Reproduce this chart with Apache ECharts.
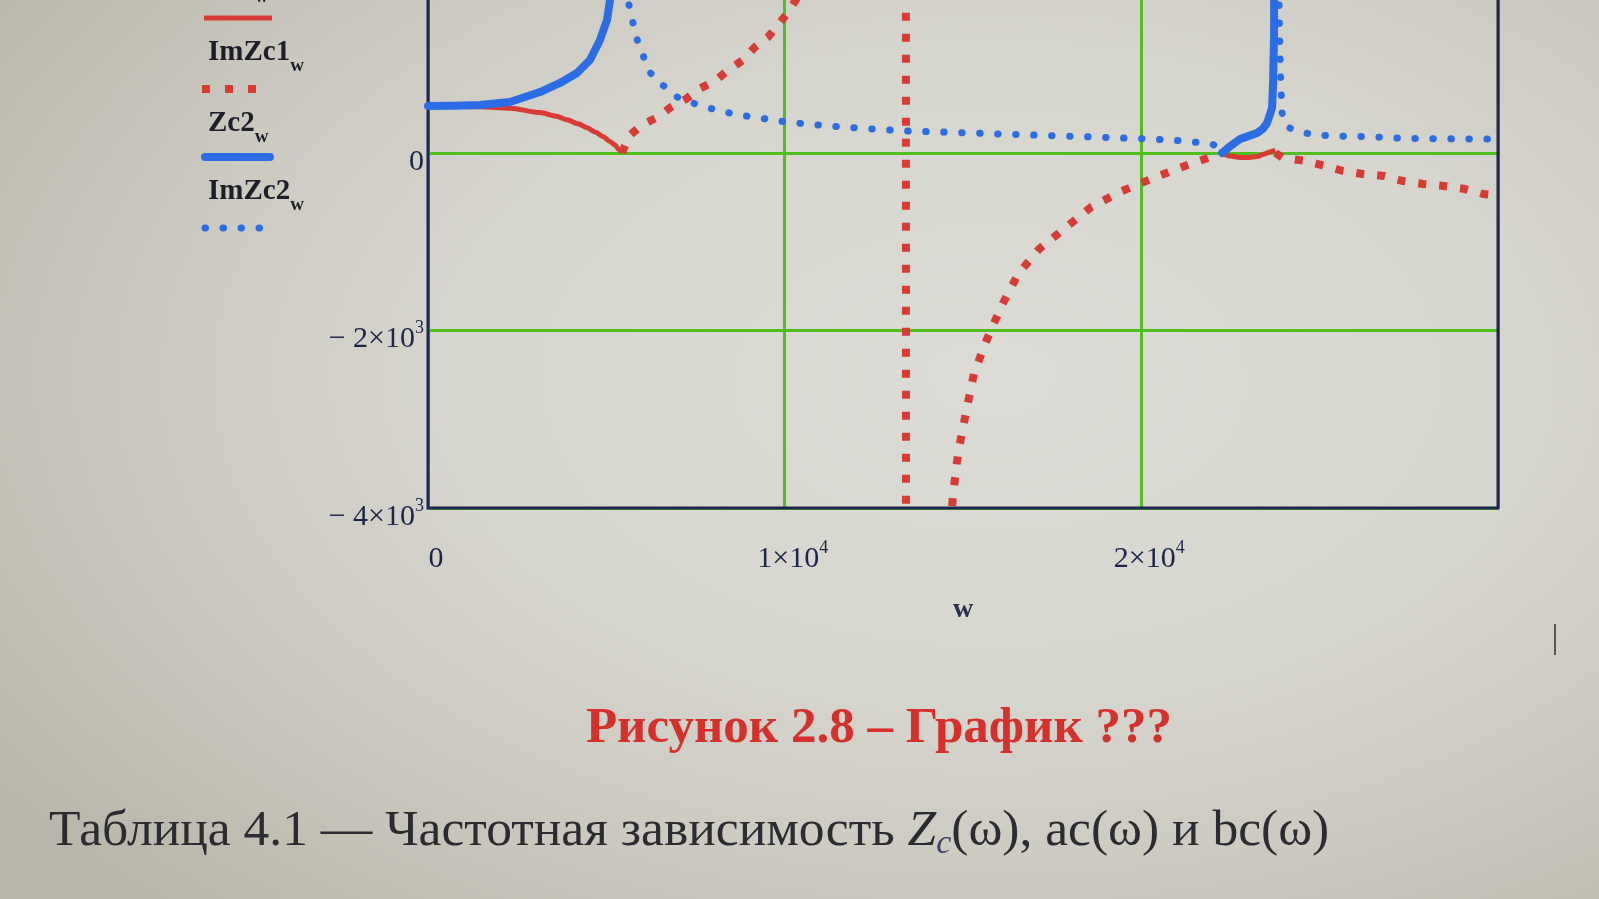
<!DOCTYPE html>
<html>
<head>
<meta charset="utf-8">
<script src="https://cdn.jsdelivr.net/npm/echarts@6/dist/echarts.min.js"></script>
<style>
html,body{margin:0;padding:0;width:1599px;height:899px;overflow:hidden;position:relative;
background:radial-gradient(ellipse 75% 80% at 62% 42%, #dcdbd5 0%, #d6d5ce 45%, #c9c7bd 75%, #b9b7ab 100%);}
#c{position:absolute;left:0;top:-202px;width:1599px;height:1101px;}
</style>
</head>
<body>
<div id="c"></div>
<script>
// ---- data (w, value) ----
const zc1 = [[0,530],[700,530],[1458,520],[2299,505],[3140,455],[3600,415],[3897,375],[4200,330],[4458,285],[4700,235],[4907,185],[5100,130],[5243,90],[5350,40],[5440,0],
  [5441,'-'],
  [22264,0],[22500,-35],[22769,-50],[23000,-50],[23246,-40],[23450,-10],[23666,20],[23760,30]];
const imZc1 = [[5440,0],[5636,192],[6000,316],[6449,406],[6814,518],[7234,609],[7599,721],[8047,811],[8384,924],[8833,1048],[9169,1195],[9534,1307],[9842,1454],[10122,1600],[10500,1850],[11000,2300],[11500,2900],[12000,3700],[12500,5000],[13000,8000],[13390,40000],
  [13410,-40000],[13800,-12000],[14200,-7000],[14500,-5000],[14721,-3843],[14861,-3381],[15086,-2919],[15310,-2479],[15674,-2096],[16095,-1713],[16544,-1364],[17132,-1082],[17861,-845],[18591,-609],[19460,-428],[20413,-270],[21366,-124],[21871,-56],[22264,0],
  [22265,'-'],
  [23760,0],[23974,-56],[24619,-90],[25152,-147],[25657,-203],[26217,-237],[26806,-259],[27339,-316],[27900,-349],[28489,-372],[29077,-406],[29582,-462],[30000,-480]];
const zc2 = [[0,530],[700,532],[1458,540],[2299,575],[3140,687],[3701,789],[4178,901],[4542,1048],[4823,1273],[5019,1499],[5103,1724],[5250,2600],[5380,6000],[5440,40000],
  [5441,'-'],
  [22264,0],[22500,80],[22769,158],[23000,190],[23246,225],[23400,270],[23526,338],[23620,450],[23666,518],[23694,789],[23722,1352],[23740,40000]];
const imZc2 = [[5440,40000],[5608,1713],[5720,1533],[5790,1364],[5916,1217],[6057,1071],[6197,924],[6421,811],[6730,721],[6982,631],[7346,575],[7739,518],[8160,480],[8524,445],[8945,415],[9365,390],[9842,360],[10767,320],[11721,290],[12674,265],[13599,245],[14553,235],[16000,215],[17500,195],[19039,175],[20105,160],[21058,140],[21700,115],[22011,95],[22200,55],[22264,0],
  [22265,'-'],
  [23740,40000],[23860,1700],[23900,900],[23946,451],[24086,293],[24451,237],[24900,203],[25320,192],[26358,185],[27311,165],[28320,160],[29330,158],[30000,158]];

const xTickValues = [0, 10000, 20000];
const xTickText = ['0', '1\u00d710', '2\u00d710'];
const xTickExp = ['', '4', '4'];
const yTickValues = [0, -2000, -4000];
const yTickText = ['0', '\u2212 2\u00d710', '\u2212 4\u00d710'];
const yTickExp = ['', '3', '3'];

const legendNames = ['Zc1', 'ImZc1', 'Zc2', 'ImZc2'];
const legendSub = 'w';
const axisName = 'w';
const captionText = 'Рисунок 2.8 – График ???';
const tablePre = 'Таблица 4.1 — Частотная зависимость ';
const tableZ = 'Z';
const tableSub = 'c';
const tablePost = '(ω), ac(ω) и bc(ω)';

const OFF = 202; // chart canvas starts 202px above the page
const RED = '#d83b36', BLUE = '#2c6de6', GREEN = '#4fbf1f', FRAME = '#1d2550', INK = '#1c2548';
const SERIF = '"Liberation Serif", "DejaVu Serif", serif';

function fmt(vals, txt, exp) {
  return function (v) {
    const i = vals.indexOf(v);
    if (i < 0) return '';
    return '{m|' + txt[i] + '}' + (exp[i] ? '{s|' + exp[i] + '}' : '');
  };
}
const tickRich = {
  m: {fontFamily: SERIF, fontSize: 30, color: INK, lineHeight: 40, verticalAlign: 'bottom'},
  s: {fontFamily: SERIF, fontSize: 18, color: INK, lineHeight: 40, verticalAlign: 'top', padding: [5, 0, 0, 0]}
};

const chart = echarts.init(document.getElementById('c'), null, {renderer: 'canvas'});

const legendY = [-12, 57, 128, 196];
const legendText = legendNames.map((n, i) => ({
  type: 'text', x: 208, y: legendY[i] + OFF, z: 100,
  style: {
    text: '{b|' + n + '}{w|' + legendSub + '}',
    verticalAlign: 'middle', align: 'left',
    rich: {
      b: {fontFamily: SERIF, fontWeight: 'bold', fontSize: 29, fill: '#1e1e28', lineHeight: 38, verticalAlign: 'top'},
      w: {fontFamily: SERIF, fontWeight: 'bold', fontSize: 19, fill: '#1e1e28', lineHeight: 38, verticalAlign: 'bottom'}
    }
  }
}));

chart.setOption({
  backgroundColor: 'transparent',
  animation: false,
  grid: {left: 428, right: 101, top: 0, bottom: 391, show: true, borderColor: FRAME, borderWidth: 3, backgroundColor: 'transparent', z: 3},
  xAxis: {
    type: 'value', min: 0, max: 30000, interval: 10000,
    name: axisName, nameLocation: 'middle', nameGap: 88,
    nameTextStyle: {fontFamily: SERIF, fontSize: 28, fontWeight: 'bold', color: '#2a2f4a'},
    axisLine: {show: false}, axisTick: {show: false},
    axisLabel: {margin: 26, formatter: fmt(xTickValues, xTickText, xTickExp), rich: tickRich, padding: [0, 0, 0, 16]},
    splitLine: {show: true, lineStyle: {color: GREEN, width: 3}}
  },
  yAxis: {
    type: 'value', min: -4000, max: 4000, interval: 2000,
    axisLine: {show: false}, axisTick: {show: false},
    axisLabel: {margin: 4, formatter: fmt(yTickValues, yTickText, yTickExp), rich: tickRich, padding: [8, 0, 0, 0]},
    splitLine: {show: true, lineStyle: {color: GREEN, width: 3}}
  },
  series: [
    {name: 'Zc1', type: 'line', data: zc1, showSymbol: false, connectNulls: false, clip: true, z: 4,
     smooth: 0.3, smoothMonotone: 'x',
     lineStyle: {color: RED, width: 5}},
    {name: 'ImZc1', type: 'line', data: imZc1, showSymbol: false, connectNulls: false, clip: true, z: 5,
     lineStyle: {color: RED, width: 8, type: [8, 13], cap: 'butt'}},
    {name: 'Zc2', type: 'line', data: zc2, showSymbol: false, connectNulls: false, clip: true, z: 6,
     lineStyle: {color: BLUE, width: 8, cap: 'round', join: 'round'}},
    {name: 'ImZc2', type: 'line', data: imZc2, showSymbol: false, connectNulls: false, clip: true, z: 7,
     lineStyle: {color: BLUE, width: 7, type: [0.5, 17.5], cap: 'round'}}
  ],
  graphic: legendText.concat([
    {type: 'line', z: 100, shape: {x1: 204, y1: 18 + OFF, x2: 272, y2: 18 + OFF}, style: {stroke: RED, lineWidth: 5}},
    {type: 'line', z: 100, shape: {x1: 202, y1: 89 + OFF, x2: 256, y2: 89 + OFF}, style: {stroke: RED, lineWidth: 8, lineDash: [8, 15]}},
    {type: 'line', z: 100, shape: {x1: 205, y1: 157 + OFF, x2: 270, y2: 157 + OFF}, style: {stroke: BLUE, lineWidth: 8, lineCap: 'round'}},
    {type: 'line', z: 100, shape: {x1: 205, y1: 228 + OFF, x2: 262, y2: 228 + OFF}, style: {stroke: BLUE, lineWidth: 7, lineCap: 'round', lineDash: [0.5, 17.5]}},
    {type: 'text', z: 100, x: 879, y: 729 + OFF, style: {
      text: captionText, align: 'center', verticalAlign: 'middle',
      font: 'bold 51px ' + SERIF, fill: '#d5302c'}},
    {type: 'text', z: 100, x: 49, y: 831 + OFF, style: {
      text: '{n|' + tablePre + '}{i|' + tableZ + '}{c|' + tableSub + '}{n|' + tablePost + '}',
      align: 'left', verticalAlign: 'middle',
      rich: {
        n: {fontFamily: SERIF, fontSize: 51.5, fill: '#2b2b30', lineHeight: 60, verticalAlign: 'middle'},
        i: {fontFamily: SERIF, fontSize: 51.5, fontStyle: 'italic', fill: '#2b2b30', lineHeight: 60, verticalAlign: 'middle'},
        c: {fontFamily: SERIF, fontSize: 34, fontStyle: 'italic', fill: '#3a3f66', lineHeight: 60, verticalAlign: 'bottom'}
      }}},
    {type: 'line', z: 100, shape: {x1: 1555, y1: 624 + OFF, x2: 1555, y2: 655 + OFF}, style: {stroke: '#55565a', lineWidth: 2}}
  ])
});
</script>
</body>
</html>
